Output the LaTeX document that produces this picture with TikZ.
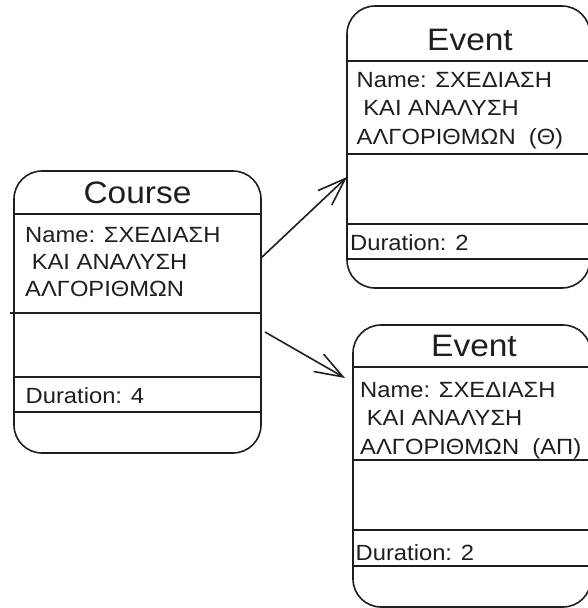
\documentclass[tikz,border=0pt]{standalone}
\usepackage{fontspec}
\setmainfont{Liberation Sans}[FakeStretch=1.08]
\usetikzlibrary{arrows.meta}
\definecolor{ink}{RGB}{30,30,30}
\begin{document}
\begin{tikzpicture}[x=1pt,y=-1pt,
  umlbox/.style={draw=ink, line width=1.6pt, rounded corners=28pt,
    minimum width=#1, minimum height=282pt, inner sep=0pt, outer sep=0pt},
  sep/.style={draw=ink, line width=1.6pt},
  title/.style={font=\fontsize{31}{31}\selectfont, text=ink, anchor=base, inner sep=0pt},
  field/.style={font=\fontsize{22}{22}\selectfont, text=ink, anchor=base west, inner sep=0pt},
  link/.style={draw=ink, line width=1.6pt, -{Straight Barb[length=28pt,width=20pt]}}]
\useasboundingbox (0,0) rectangle (587,608);

% --- Course ---
\node[umlbox=247pt] (course) at (137.5,312) {};
\draw[sep] (14,214) -- (261,214);
\draw[sep] (10,313) -- (261,313);
\draw[sep] (14,377) -- (261,377);
\draw[sep] (14,412) -- (261,412);
\node[title] (courseTitle) at (137.5,203) {Course};
\node[field] (courseName1) at (25,242) {Name: ΣΧΕΔΙΑΣΗ};
\node[field] (courseName2) at (25,269) {\ ΚΑΙ ΑΝΑΛΥΣΗ};
\node[field] (courseName3) at (25,296.5) {ΑΛΓΟΡΙΘΜΩΝ};
\node[field] (courseDur) at (25.5,403) {Duration: 4};

% --- Event (Θ) ---
\node[umlbox=243pt] (ev1) at (468.5,147) {};
\draw[sep] (347,61) -- (590,61);
\draw[sep] (347,154) -- (590,154);
\draw[sep] (347,224) -- (590,224);
\draw[sep] (347,259) -- (590,259);
\node[title] (ev1Title) at (470,50) {Event};
\node[field] (ev1Name1) at (356.5,87.3) {Name: ΣΧΕΔΙΑΣΗ};
\node[field] (ev1Name2) at (356.5,115.5) {\ ΚΑΙ ΑΝΑΛΥΣΗ};
\node[field] (ev1Name3) at (356.5,144) {ΑΛΓΟΡΙΘΜΩΝ\ \ (Θ)};
\node[field] (ev1Dur) at (350,250.7) {Duration: 2};

% --- Event (ΑΠ) ---
\node[umlbox=238pt] (ev2) at (472,466) {};
\draw[sep] (353,367) -- (591,367);
\draw[sep] (353,460) -- (591,460);
\draw[sep] (353,530) -- (591,530);
\draw[sep] (353,566) -- (591,566);
\node[title] (ev2Title) at (474,356.7) {Event};
\node[field] (ev2Name1) at (360,397.3) {Name: ΣΧΕΔΙΑΣΗ};
\node[field] (ev2Name2) at (360,425.5) {\ ΚΑΙ ΑΝΑΛΥΣΗ};
\node[field] (ev2Name3) at (360,454) {ΑΛΓΟΡΙΘΜΩΝ\ \ (ΑΠ)};
\node[field] (ev2Dur) at (355.5,560) {Duration: 2};

% --- links ---
\draw[link] ([yshift=54pt]course.east) -- ([yshift=-30pt]ev1.west);
\draw[link] ([xshift=4pt,yshift=-20pt]course.east) -- ([xshift=-8pt,yshift=88pt]ev2.west);
\end{tikzpicture}
\end{document}
